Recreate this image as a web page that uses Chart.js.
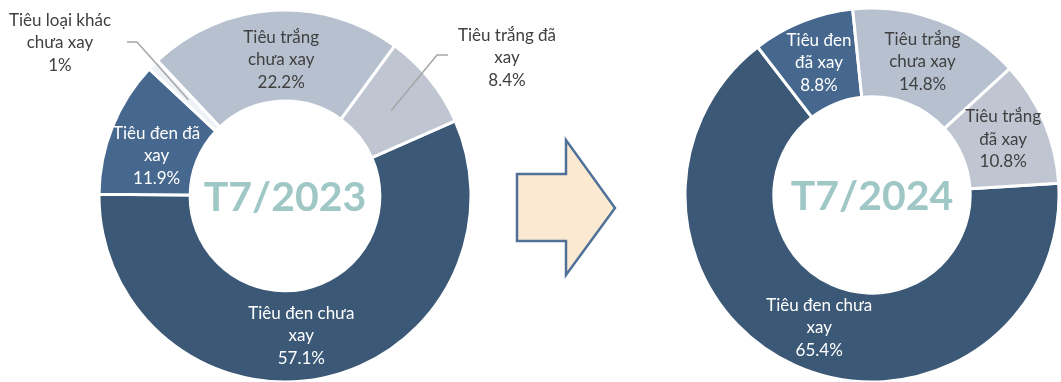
<!DOCTYPE html>
<html lang="vi">
<head>
<meta charset="utf-8">
<title>Cơ cấu xuất khẩu hồ tiêu T7/2023 - T7/2024</title>
<script src="https://cdn.jsdelivr.net/npm/chart.js@4/dist/chart.umd.min.js"></script>
<style>
  html, body { margin: 0; padding: 0; background: #fff; overflow: hidden; }
  #khung { position: relative; width: 1061px; height: 382px; }
  #bd2023 { position: absolute; left: 0; top: 0; }
  #bd2024 { position: absolute; left: 580px; top: 0; }
  #muiTen { position: absolute; left: 0; top: 0; }
</style>
</head>
<body>
<div id="khung">
  <canvas id="bd2023" width="580" height="382"></canvas>
  <canvas id="bd2024" width="481" height="382"></canvas>
  <svg id="muiTen" width="1061" height="382">
    <polygon points="517,174 566,174 566,140 615,208 566,275 566,241 517,241"
             fill="#FCE9D2" stroke="#4F7197" stroke-width="2.5" stroke-linejoin="miter"/>
  </svg>
</div>
<script>
// Cơ cấu theo chủng loại (%)
const nhan2023 = [
    ['Tiêu đen chưa', 'xay'],
    ['Tiêu đen đã', 'xay'],
    ['Tiêu loại khác', 'chưa xay'],
    ['Tiêu trắng', 'chưa xay'],
    ['Tiêu trắng đã', 'xay']
];
const tyLe2023 = [57.1, 11.9, 1, 22.2, 8.4];

const nhan2024 = [
    ['Tiêu đen chưa', 'xay'],
    ['Tiêu đen', 'đã xay'],
    ['Tiêu trắng', 'chưa xay'],
    ['Tiêu trắng', 'đã xay']
];
const tyLe2024 = [65.4, 8.8, 14.8, 10.8];

const FONT = 'Lato, "Open Sans", sans-serif';

// nhãn trong lát + nhãn ngoài có đường dẫn
const nhanLat = {
    id: 'nhanLat',
    afterDatasetsDraw(chart, args, opts) {
        const ctx = chart.ctx;
        const meta = chart.getDatasetMeta(0);
        const giaTri = chart.data.datasets[0].data;
        const lh = 22.5;
        ctx.save();
        ctx.font = '17px ' + FONT;
        ctx.textAlign = 'center';
        ctx.textBaseline = 'middle';
        meta.data.forEach((arc, i) => {
            const p = arc.getProps(['x', 'y', 'startAngle', 'endAngle', 'innerRadius', 'outerRadius'], true);
            const goc = (p.startAngle + p.endAngle) / 2;
            const r = (p.innerRadius + p.outerRadius) / 2;
            const dong = chart.data.labels[i].concat(giaTri[i] + '%');
            const ngoai = opts.ngoai && opts.ngoai[i];
            let tx, ty;
            if (ngoai) {
                // đường dẫn: từ giữa lát -> điểm gãy -> đoạn ngang
                const x0 = p.x + Math.cos(goc) * (r - 4);
                const y0 = p.y + Math.sin(goc) * (r - 4);
                ctx.strokeStyle = '#A6A6A6';
                ctx.lineWidth = 1.5;
                ctx.beginPath();
                ctx.moveTo(x0, y0);
                ctx.lineTo(p.x + ngoai.gay[0], p.y + ngoai.gay[1]);
                ctx.lineTo(p.x + ngoai.cuoi, p.y + ngoai.gay[1]);
                ctx.stroke();
                tx = p.x + ngoai.chu[0];
                ty = p.y + ngoai.chu[1];
                ctx.fillStyle = '#404040';
            } else {
                const lech = (opts.lech && opts.lech[i]) || [0, 0];
                tx = p.x + Math.cos(goc) * r + lech[0];
                ty = p.y + Math.sin(goc) * r + lech[1];
                ctx.fillStyle = opts.mauChu[i];
            }
            dong.forEach((d, k) => {
                ctx.fillText(d, tx, ty + (k - (dong.length - 1) / 2) * lh);
            });
        });
        ctx.restore();
    }
};

// chữ ở giữa vòng
const chuGiua = {
    id: 'chuGiua',
    afterDraw(chart, args, opts) {
        const arc = chart.getDatasetMeta(0).data[0];
        const ctx = chart.ctx;
        ctx.save();
        ctx.font = 'bold 41px ' + FONT;
        ctx.fillStyle = '#9FC7C5';
        ctx.textAlign = 'center';
        ctx.textBaseline = 'middle';
        ctx.fillText(opts.text, arc.x, arc.y + 2);
        ctx.restore();
    }
};

function veVong(canvasId, nhan, duLieu, mau, mauChu, xoay, banKinh, cat, dem, text, ngoai, lech) {
    const ctx = document.getElementById(canvasId).getContext('2d');
    return new Chart(ctx, {
        type: 'doughnut',
        data: {
            labels: nhan,
            datasets: [{
                data: duLieu,
                backgroundColor: mau,
                borderColor: '#ffffff',
                borderWidth: 3,
                hoverOffset: 0
            }]
        },
        options: {
            responsive: false,
            animation: false,
            rotation: xoay,
            radius: banKinh,
            cutout: cat,
            layout: { padding: dem },
            events: [],
            plugins: {
                legend: { display: false },
                tooltip: { enabled: false },
                nhanLat: { mauChu: mauChu, ngoai: ngoai, lech: lech },
                chuGiua: { text: text }
            }
        },
        plugins: [nhanLat, chuGiua]
    });
}

const DEN = '#3B5876';
const DEN_XAY = '#46688F';
const TRANG = '#B6C0CF';
const TRANG_XAY = '#BFC5D1';
const KHAC = '#EEF1F5';

veVong('bd2023', nhan2023, tyLe2023,
    [DEN, DEN_XAY, KHAC, TRANG, TRANG_XAY],
    ['#ffffff', '#ffffff', '#404040', '#404040', '#404040'],
    66.2, 186, '51%', { left: 0, right: 10, top: 10, bottom: 0 }, 'T7/2023',
    {
        2: { gay: [-148, -154], cuoi: -158, chu: [-225, -153] },
        4: { gay: [152, -141], cuoi: 163, chu: [222, -138] }
    },
    { 0: [-12, 2], 1: [2, 12], 3: [5, 4] });

veVong('bd2024', nhan2024, tyLe2024,
    [DEN, DEN_XAY, TRANG, TRANG_XAY],
    ['#ffffff', '#ffffff', '#404040', '#404040'],
    86.4, 187, '52.5%', { left: 103, right: 0, top: 8, bottom: 0 }, 'T7/2024',
    null,
    { 0: [6, 3] });
</script>
</body>
</html>
